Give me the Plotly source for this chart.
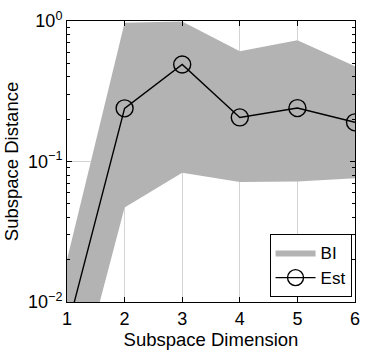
import plotly.graph_objects as go

# subspace dimension
dims = [1, 2, 3, 4, 5, 6]
# BI band (lower / upper)
bi_low = [0.0013, 0.047, 0.083, 0.0715, 0.072, 0.076]
bi_high = [0.020, 0.97, 0.99, 0.61, 0.73, 0.476]
# estimated distance
est = [0.0063, 0.239, 0.49, 0.206, 0.24, 0.19]

ytick_vals = [0.01, 0.1, 1]
ytick_text = ["10<sup>\u22122</sup>", "10<sup>\u22121</sup>", "10<sup>0</sup>"]

fnt = "Liberation Sans, Arial, Helvetica, sans-serif"

fig = go.Figure()
fig.add_trace(go.Scatter(x=dims, y=bi_low, mode="lines", line=dict(width=0, color="#b3b3b3"),
                         showlegend=False, hoverinfo="skip"))
fig.add_trace(go.Scatter(x=dims, y=bi_high, mode="lines", line=dict(width=0, color="#b3b3b3"),
                         fill="tonexty", fillcolor="#b3b3b3", name="BI"))
fig.add_trace(go.Scatter(x=dims, y=est, mode="lines+markers", name="Est",
                         line=dict(color="black", width=1.4),
                         marker=dict(symbol="circle-open", size=17, color="black", line=dict(width=1.4))))

fig.update_layout(
    width=374, height=352,
    margin=dict(l=67, r=19, t=21, b=50, autoexpand=False),
    plot_bgcolor="white", paper_bgcolor="white",
    font=dict(family=fnt, size=18, color="black"),
    legend=dict(x=0.988, y=0.018, xanchor="right", yanchor="bottom",
                bgcolor="white", bordercolor="black", borderwidth=1,
                font=dict(size=17), tracegroupgap=0, traceorder="normal", itemwidth=40),
)
fig.update_xaxes(
    range=[1, 6], tickvals=dims, title=dict(text="Subspace Dimension", standoff=2, font=dict(size=18.5)),
    tickfont=dict(size=18), automargin=False,
    showline=True, linecolor="black", linewidth=1, mirror="allticks",
    ticks="inside", ticklen=5, tickcolor="black",
    showgrid=True, gridcolor="#d4d4d4", gridwidth=1, zeroline=False,
)
fig.update_yaxes(
    type="log", range=[-2, 0], tickvals=ytick_vals, ticktext=ytick_text,
    title=dict(text="Subspace Distance", standoff=4, font=dict(size=18.5)),
    tickfont=dict(size=18), automargin=False,
    showline=True, linecolor="black", linewidth=1, mirror="allticks",
    ticks="inside", ticklen=5, tickcolor="black",
    showgrid=True, gridcolor="#d4d4d4", gridwidth=1, zeroline=False,
    minor=dict(ticks="inside", ticklen=3, tickcolor="black", dtick="D1", showgrid=False),
)

fig.write_html("out.html", config={"displayModeBar": False},
               post_script="document.body.style.margin='0';")
